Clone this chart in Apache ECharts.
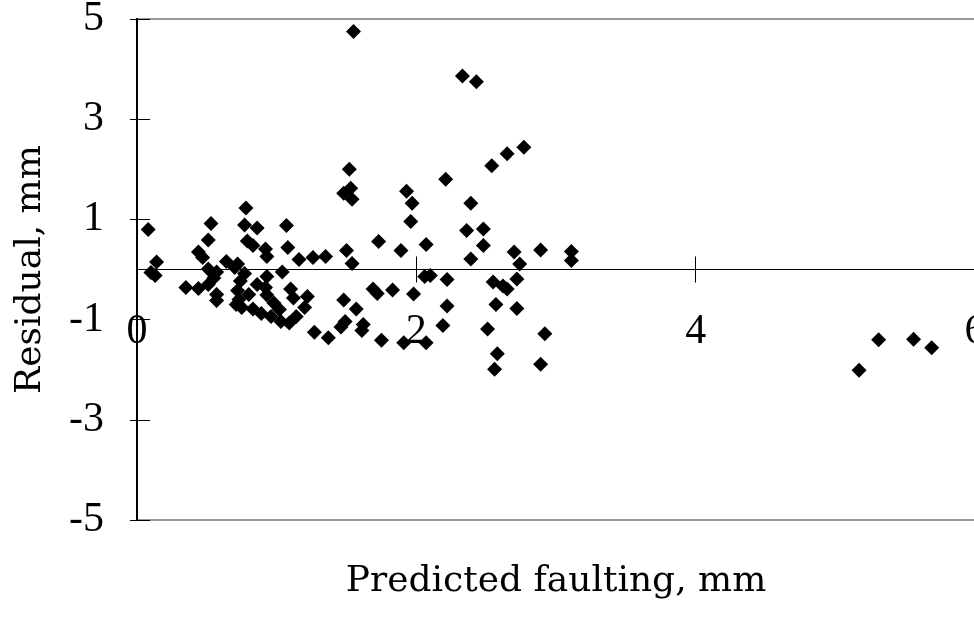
<!DOCTYPE html>
<html>
<head>
<meta charset="utf-8">
<script src="https://cdn.jsdelivr.net/npm/echarts@6/dist/echarts.min.js"></script>
<style>html,body{margin:0;padding:0;background:#fff}#c{width:974px;height:617px}</style>
</head>
<body>
<div id="c"></div>
<script>
// Predicted faulting (mm) for each observation
const predictedFaulting = [
  1.55, 1.52, 1.48, 1.53, 1.54, 1.93, 1.97, 1.96, 0.78, 0.08,
  0.53, 0.77, 0.86, 1.07, 0.51, 0.79, 0.83, 0.92, 0.93, 1.08,
  0.44, 0.47, 1.73, 1.89, 2.07, 1.50, 0.14, 0.64, 0.72, 1.16,
  1.26, 1.35, 1.54, 2.33, 2.43, 2.54, 2.65, 2.77, 2.21, 2.39,
  2.36, 2.48, 2.48, 2.39, 2.70, 2.89, 3.11, 3.11, 2.74, 0.70,
  0.51, 0.10, 0.13, 0.35, 0.44, 0.51, 0.55, 0.57, 0.57, 0.72,
  0.71, 0.77, 0.74, 0.73, 0.75, 0.93, 0.92, 0.93, 0.83, 0.89,
  0.96, 1.03, 1.09, 1.14, 1.20, 1.22, 1.10, 1.12, 0.98, 1.04,
  0.86, 0.80, 1.02, 0.57, 1.27, 1.37, 1.48, 1.57, 1.49, 1.46,
  1.62, 1.61, 1.75, 1.69, 1.72, 1.83, 1.98, 2.06, 1.91, 2.07,
  2.10, 2.22, 2.55, 2.65, 2.62, 2.72, 2.22, 2.57, 2.72, 2.19,
  2.51, 2.92, 2.58, 2.56, 2.89, 5.17, 5.31, 5.56, 5.69
];
// Residual (mm) for each observation
const residual = [
  4.75, 2.00, 1.52, 1.62, 1.40, 1.56, 1.32, 0.96, 1.23, 0.80,
  0.92, 0.89, 0.83, 0.88, 0.59, 0.57, 0.48, 0.41, 0.26, 0.44,
  0.35, 0.24, 0.56, 0.38, 0.50, 0.38, 0.15, 0.16, 0.11, 0.20,
  0.24, 0.26, 0.12, 3.86, 3.75, 2.07, 2.31, 2.44, 1.80, 1.32,
  0.78, 0.81, 0.48, 0.21, 0.35, 0.39, 0.36, 0.18, 0.11, 0.04,
  0.01, -0.06, -0.12, -0.36, -0.38, -0.30, -0.17, -0.50, -0.62, -0.42,
  -0.70, -0.08, -0.23, -0.60, -0.76, -0.14, -0.36, -0.51, -0.79, -0.88,
  -0.94, -1.04, -1.07, -0.94, -0.76, -0.54, -0.39, -0.57, -0.67, -0.05,
  -0.30, -0.50, -0.80, -0.05, -1.25, -1.36, -0.61, -0.79, -1.04, -1.15,
  -1.10, -1.22, -1.41, -0.39, -0.48, -0.41, -0.49, -0.14, -1.46, -1.46,
  -0.12, -0.20, -0.25, -0.39, -0.33, -0.19, -0.73, -0.70, -0.78, -1.12,
  -1.19, -1.28, -1.68, -1.99, -1.89, -2.01, -1.40, -1.39, -1.56
];
const xTickLabels = ['0', '2', '4', '6'];
const yTickLabels = ['-5', '-3', '-1', '1', '3', '5'];
const xAxisTitle = 'Predicted faulting, mm';
const yAxisTitle = 'Residual, mm';

const xMin = Number(xTickLabels[0]);
const xMax = Number(xTickLabels[xTickLabels.length - 1]);
const xStep = Number(xTickLabels[1]) - xMin;
const yMin = Number(yTickLabels[0]);
const yMax = Number(yTickLabels[yTickLabels.length - 1]);
const yStep = Number(yTickLabels[1]) - yMin;

const points = predictedFaulting.map((x, i) => [x, residual[i]]);

const tickFont = { fontFamily: 'Liberation Serif', fontSize: 42, color: '#000' };
const titleFont = { fontFamily: 'DejaVu Serif', fontSize: 36, color: '#000' };

const chart = echarts.init(document.getElementById('c'), null, { renderer: 'canvas' });
chart.setOption({
  animation: false,
  backgroundColor: '#fff',
  grid: {
    left: 137, top: 19, right: -1, bottom: 97,
    show: true, borderColor: '#333', borderWidth: 1,
    containLabel: false, outerBoundsMode: 'none'
  },
  xAxis: [
    {
      type: 'value', min: xMin, max: xMax, interval: xStep, position: 'bottom',
      axisLine: { show: true, onZero: true, lineStyle: { color: '#000', width: 1 } },
      axisTick: { show: true, length: 13, lineStyle: { color: '#000', width: 1 } },
      axisLabel: Object.assign({ margin: -209 }, tickFont),
      splitLine: { show: false },
      name: xAxisTitle, nameLocation: 'middle', nameGap: 44, nameTextStyle: titleFont
    },
    {
      type: 'value', min: xMin, max: xMax, interval: xStep, position: 'top',
      axisLine: { show: true, onZero: true, lineStyle: { color: '#000', width: 1 } },
      axisTick: { show: true, length: 13, lineStyle: { color: '#000', width: 1 } },
      axisLabel: { show: false },
      splitLine: { show: false }
    }
  ],
  yAxis: [
    {
      type: 'value', min: yMin, max: yMax, interval: yStep, position: 'left',
      axisLine: { show: true, onZero: true, lineStyle: { color: '#000', width: 2 } },
      axisTick: { show: true, length: 7, lineStyle: { color: '#000', width: 1 } },
      axisLabel: Object.assign({ margin: 33 }, tickFont),
      splitLine: { show: false },
      name: yAxisTitle, nameLocation: 'middle', nameGap: 88, nameTextStyle: titleFont
    },
    {
      type: 'value', min: yMin, max: yMax, interval: yStep, position: 'right',
      axisLine: { show: true, onZero: true, lineStyle: { color: '#000', width: 2 } },
      axisTick: { show: true, length: 13, lineStyle: { color: '#000', width: 1 } },
      axisLabel: { show: false },
      splitLine: { show: false }
    }
  ],
  series: [{
    type: 'scatter',
    xAxisIndex: 0, yAxisIndex: 0,
    symbol: 'diamond', symbolSize: 15,
    itemStyle: { color: '#000', opacity: 1 },
    data: points
  }]
});
</script>
</body>
</html>
